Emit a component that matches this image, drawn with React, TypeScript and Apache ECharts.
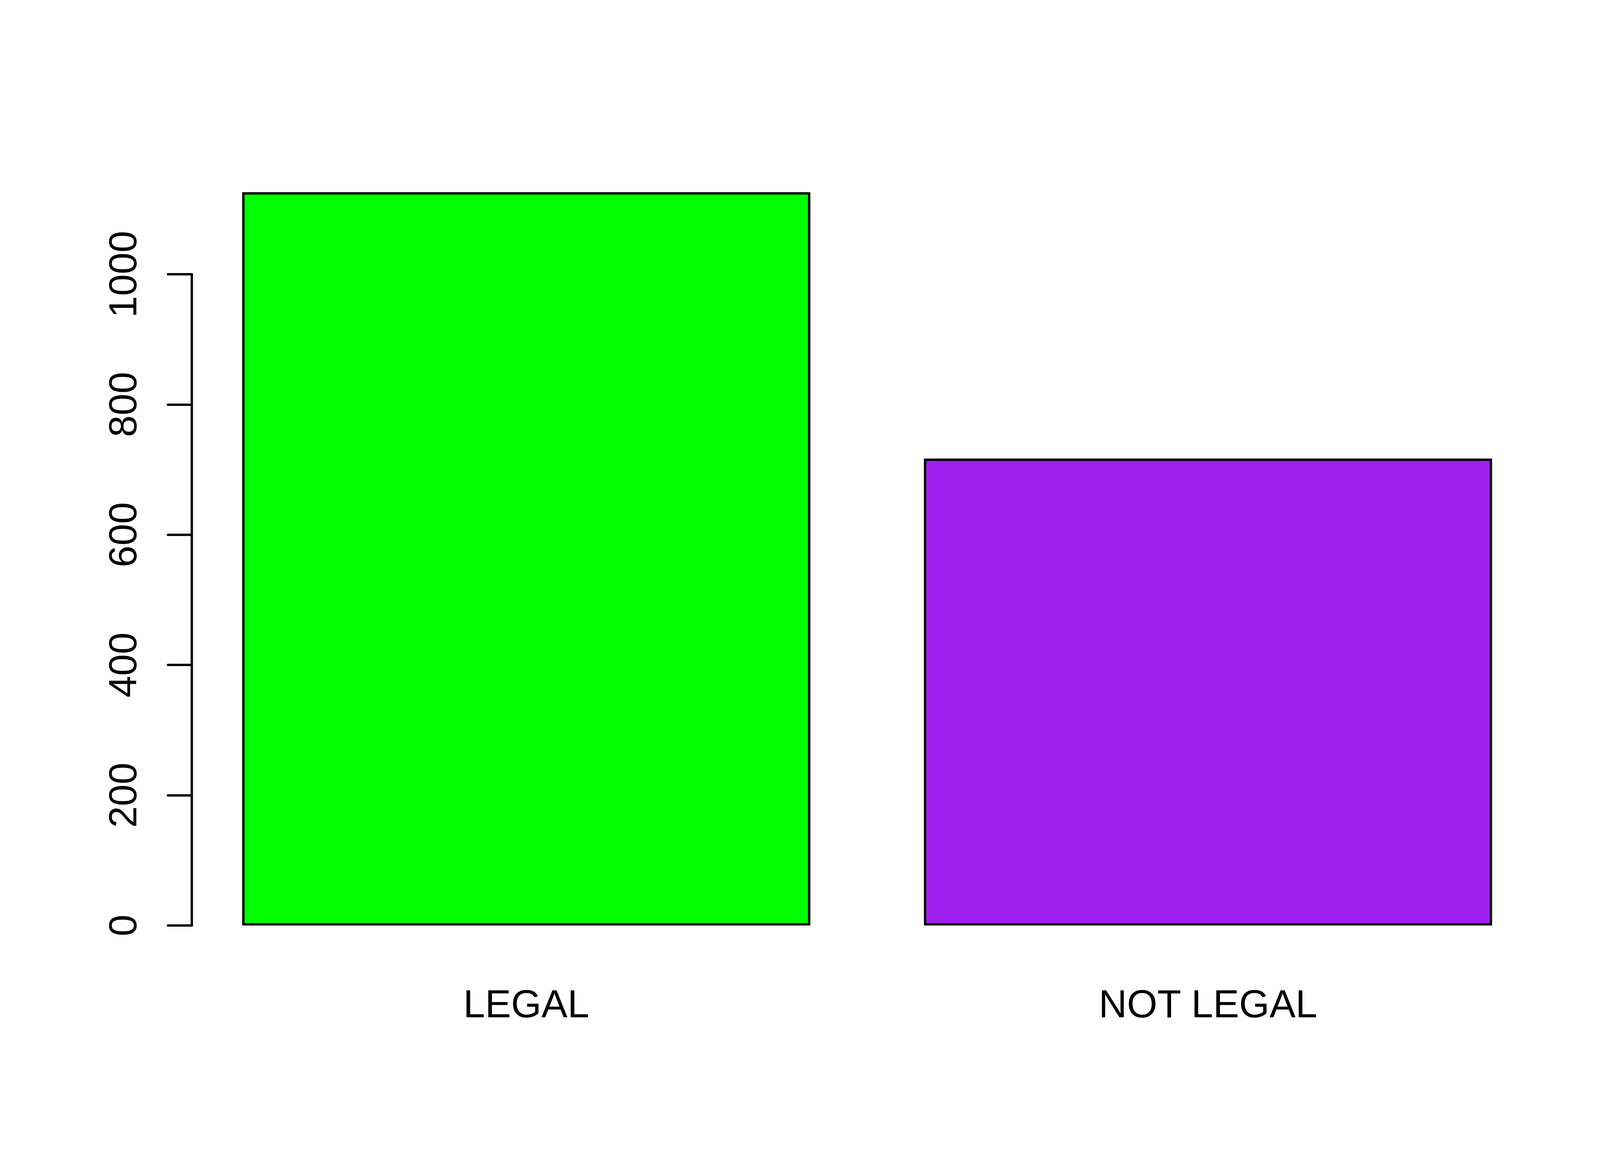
import React, { useEffect, useRef } from "react";
import * as echarts from "echarts";

const categories = ["LEGAL", "NOT LEGAL"];
const counts = [1126, 717];
const barColors = ["#00FF00", "#A020F0"];
const yMin = 0;
const yMax = 1000;
const yStep = 200;

const App = () => {
  const chartRef = useRef<HTMLDivElement>(null);

  useEffect(() => {
    if (!chartRef.current) return;
    const chart = echarts.init(chartRef.current, undefined, { renderer: "svg" });

    const font = "Liberation Sans, Arial, Helvetica, sans-serif";

    const option: echarts.EChartsOption = {
      animation: false,
      backgroundColor: "#ffffff",
      grid: {
        left: 474.6,
        right: 234.9,
        top: 702,
        bottom: 631,
        containLabel: false,
      },
      xAxis: {
        type: "category",
        data: categories,
        boundaryGap: true,
        axisLine: { show: false },
        axisTick: { show: false },
        axisLabel: {
          color: "#000",
          fontSize: 100,
          lineHeight: 100,
          fontFamily: font,
          margin: 150,
          interval: 0,
        },
      },
      yAxis: {
        type: "value",
        min: yMin,
        max: yMax,
        interval: yStep,
        offset: -16.4,
        splitLine: { show: false },
        axisLine: {
          show: true,
          lineStyle: { color: "#000", width: 6, cap: "round" },
        },
        axisTick: {
          show: true,
          length: 61,
          lineStyle: { color: "#000", width: 6, cap: "round" },
        },
        axisLabel: {
          color: "#000",
          fontSize: 100,
          lineHeight: 100,
          fontFamily: font,
          rotate: 90,
          margin: 127,
          formatter: (v: number) => String(v),
        },
      },
      series: [
        {
          type: "bar",
          clip: false,
          barWidth: 1454.5,
          data: counts.map((v, i) => ({
            value: v,
            itemStyle: { color: barColors[i] },
          })),
          itemStyle: { borderColor: "#000", borderWidth: 6 },
          emphasis: { disabled: true },
        },
      ],
    };

    chart.setOption(option);
    return () => chart.dispose();
  }, []);

  return (
    <div
      ref={chartRef}
      style={{ position: "absolute", left: 0, top: 0, width: 4200, height: 3000 }}
    />
  );
};

export default App;
